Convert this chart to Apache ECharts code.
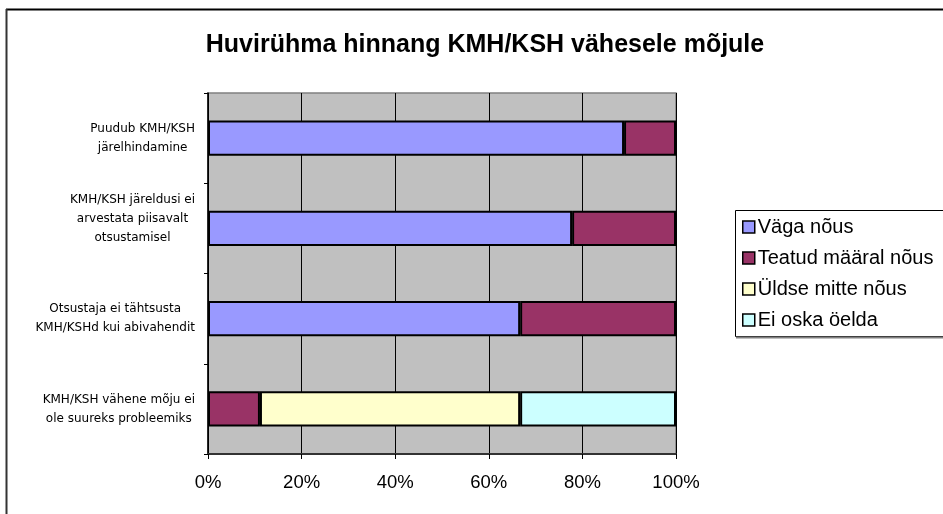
<!DOCTYPE html>
<html>
<head>
<meta charset="utf-8">
<script src="https://cdn.jsdelivr.net/npm/echarts@6/dist/echarts.min.js"></script>
<style>
  html, body { margin: 0; padding: 0; background: #ffffff; }
  #chart { width: 943px; height: 514px; }
</style>
</head>
<body>
<div id="chart"></div>
<script>
// Survey statements (top to bottom) and the share of answers per response, in %
const categories = [
  'Puudub KMH/KSH\njärelhindamine',
  'KMH/KSH järeldusi ei\narvestata piisavalt\notsustamisel',
  'Otsustaja ei tähtsusta\nKMH/KSHd kui abivahendit',
  'KMH/KSH vähene mõju ei\nole suureks probleemiks'
];
const seriesNames = ['Väga nõus', 'Teatud määral nõus', 'Üldse mitte nõus', 'Ei oska öelda'];
const vagaNous = [88.9, 77.8, 66.7, null];
const teatudMaaralNous = [11.1, 22.2, 33.3, 11.1];
const uldseMitteNous = [null, null, null, 55.6];
const eiOskaOelda = [null, null, null, 33.3];
const xTicks = [0, 20, 40, 60, 80, 100];

const colors = ['#9999FF', '#993366', '#FFFFCC', '#CCFFFF'];
const seriesData = [vagaNous, teatudMaaralNous, uldseMitteNous, eiOskaOelda];

const chart = echarts.init(document.getElementById('chart'), null, { renderer: 'canvas' });

// Each label block is right-aligned to the axis, its lines centred within the block.
// The three-line label sits a little high, as Excel wraps it.
function categoryLabel(value, idx) {
  const lines = value.split('\n').map(l => '{c|' + l + '}');
  if (lines.length === 3) lines.push('{c| }');
  return lines.join('\n');
}

const option = {
  animation: false,
  title: {
    text: 'Huvirühma hinnang KMH/KSH vähesele mõjule',
    left: 480,
    top: 28,
    textAlign: 'center',
    textStyle: {
      fontFamily: 'Liberation Sans, Arial, sans-serif',
      fontSize: 25,
      fontWeight: 'bold',
      color: '#000000'
    }
  },
  legend: {
    orient: 'vertical',
    left: 742,
    top: 217,
    itemWidth: 12,
    itemHeight: 12,
    itemGap: 11,
    icon: 'rect',
    padding: 0,
    data: seriesNames,
    itemStyle: { borderColor: '#000000', borderWidth: 1.5 },
    textStyle: {
      fontFamily: 'Liberation Sans, Arial, sans-serif',
      fontSize: 20,
      color: '#000000',
      padding: [0, 0, 0, -2]
    }
  },
  grid: {
    left: 208,
    top: 93,
    width: 468,
    height: 361,
    show: true,
    backgroundColor: '#C0C0C0',
    borderColor: '#808080',
    borderWidth: 1.5
  },
  xAxis: {
    type: 'value',
    min: xTicks[0],
    max: xTicks[xTicks.length - 1],
    interval: xTicks[1] - xTicks[0],
    axisLine: { show: true, lineStyle: { color: '#333333', width: 2 } },
    axisTick: { show: true, length: 5, lineStyle: { color: '#000000' } },
    splitLine: { show: true, lineStyle: { color: '#000000', width: 1 } },
    axisLabel: {
      formatter: '{value}%',
      margin: 19,
      fontFamily: 'Liberation Sans, Arial, sans-serif',
      fontSize: 18.5,
      color: '#000000'
    }
  },
  yAxis: {
    type: 'category',
    inverse: true,
    data: categories,
    axisLine: { show: true, lineStyle: { color: '#000000', width: 1.5 } },
    axisTick: { show: true, length: 4, lineStyle: { color: '#000000' } },
    splitLine: { show: false },
    axisLabel: {
      margin: 13,
      align: 'right',
      formatter: categoryLabel,
      fontFamily: 'DejaVu Sans, Tahoma, sans-serif',
      fontSize: 12,
      lineHeight: 19,
      color: '#000000',
      rich: {
        c: {
          align: 'center',
          fontFamily: 'DejaVu Sans, Tahoma, sans-serif',
          fontSize: 12,
          lineHeight: 19,
          color: '#000000'
        }
      }
    }
  },
  series: seriesNames.map((name, i) => ({
    name: name,
    type: 'bar',
    stack: 'total',
    barWidth: '39%',
    data: seriesData[i],
    itemStyle: {
      color: colors[i],
      borderColor: '#000000',
      borderWidth: 2
    }
  })),
  graphic: [
    // chart frame (top and left edges)
    { type: 'line', shape: { x1: 6, y1: 9.5, x2: 943, y2: 9.5 }, style: { stroke: '#000000', lineWidth: 2 } },
    { type: 'line', shape: { x1: 6.5, y1: 9, x2: 6.5, y2: 514 }, style: { stroke: '#333333', lineWidth: 2 } },
    // legend box
    {
      type: 'rect',
      z: -1,
      shape: { x: 735.5, y: 210.5, width: 220, height: 126 },
      style: { fill: '#ffffff', stroke: '#000000', lineWidth: 1 }
    },
    { type: 'line', shape: { x1: 736, y1: 337.5, x2: 943, y2: 337.5 }, style: { stroke: '#808080', lineWidth: 2 } }
  ]
};

chart.setOption(option);
</script>
</body>
</html>
